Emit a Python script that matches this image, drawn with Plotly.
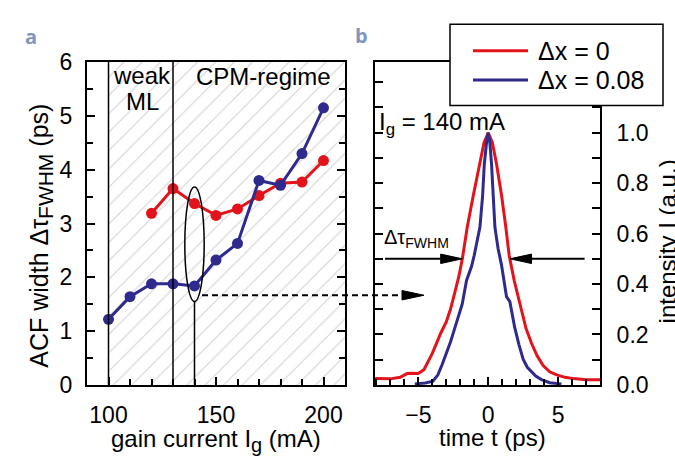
import numpy as np
import plotly.graph_objects as go

# ---------------- panel a: ACF width vs gain current ----------------
gain_current = [100, 110, 120, 130, 140, 150, 160, 170, 180, 190, 200]
acf_dx0_current = [120, 130, 140, 150, 160, 170, 180, 190, 200]
acf_dx0 = [3.19, 3.65, 3.37, 3.15, 3.27, 3.52, 3.75, 3.77, 4.17]
acf_dx008 = [1.22, 1.64, 1.88, 1.88, 1.84, 2.32, 2.63, 3.80, 3.71, 4.30, 5.15]

regime_bounds = [100, 130, 140]      # weak ML start, CPM start, selected current
ellipse_x = [135.5, 144.5]
ellipse_y = [1.55, 3.68]

# ---------------- panel b: pulse intensity at Ig = 140 mA ----------------
t_dx0 = [-8.1, -7.0, -6.3, -5.8, -5.5, -5.0, -4.6, -4.3, -4.0, -3.7, -3.4, -3.0,
         -2.7, -2.4, -2.1, -1.85, -1.5, -1.07, -0.6, -0.3, 0.0, 0.3, 0.6, 0.96,
         1.26, 1.5, 1.86, 2.38, 2.7, 3.1, 3.5, 3.93, 4.4, 4.9, 5.5, 6.1, 7.0, 8.0]
i_dx0 = [0.025, 0.024, 0.030, 0.045, 0.046, 0.045, 0.060, 0.090, 0.125, 0.165,
         0.205, 0.250, 0.300, 0.364, 0.430, 0.500, 0.625, 0.750, 0.875, 0.960,
         1.000, 0.960, 0.875, 0.750, 0.626, 0.514, 0.414, 0.290, 0.225, 0.165,
         0.115, 0.077, 0.052, 0.040, 0.030, 0.025, 0.021, 0.021]

t_dx008 = [-5.25, -4.5, -3.95, -3.6, -3.3, -2.97, -2.7, -2.38, -2.1, -1.86, -1.55,
           -1.19, -1.0, -0.83, -0.59, -0.4, -0.28, -0.12, 0.0, 0.12, 0.24, 0.36,
           0.48, 0.6, 0.71, 0.95, 1.31, 1.55, 1.9, 2.2, 2.5, 2.8, 3.1, 3.4, 3.81,
           4.4, 5.24]
i_dx008 = [0.004, 0.008, 0.015, 0.040, 0.080, 0.127, 0.170, 0.227, 0.280, 0.320,
           0.414, 0.470, 0.514, 0.560, 0.626, 0.750, 0.875, 0.960, 1.000, 0.960,
           0.875, 0.750, 0.626, 0.580, 0.540, 0.476, 0.350, 0.330, 0.227, 0.160,
           0.102, 0.070, 0.052, 0.035, 0.021, 0.009, 0.004]

legend_labels = ["Δx = 0", "Δx = 0.08"]

RED = "#e3131b"
BLUE = "#2e2a8e"
FONT = "Arial, Liberation Sans, sans-serif"

W, H = 675, 464
# plot areas in pixels (left, right, top, bottom)
A_PX = (87, 345, 52, 394)
B_PX = (375, 600, 52, 394)


def px(x):
    return x / W


def py(y):
    return 1 - y / H


fig = go.Figure()

# hatched regime area
fig.add_trace(go.Scatter(
    x=[regime_bounds[0], 210, 210, regime_bounds[0], regime_bounds[0]],
    y=[0, 0, 6, 6, 0], mode="lines", line=dict(width=0),
    fill="toself", fillcolor="white",
    fillpattern=dict(shape="/", fgcolor="#a8a8a8", bgcolor="white", size=13, solidity=0.09),
    hoverinfo="skip", showlegend=False, xaxis="x", yaxis="y"))

fig.add_trace(go.Scatter(
    x=acf_dx0_current, y=acf_dx0, mode="lines+markers",
    line=dict(color=RED, width=3), marker=dict(color=RED, size=11),
    showlegend=False, xaxis="x", yaxis="y"))
fig.add_trace(go.Scatter(
    x=gain_current, y=acf_dx008, mode="lines+markers",
    line=dict(color=BLUE, width=3), marker=dict(color=BLUE, size=11),
    showlegend=False, xaxis="x", yaxis="y"))

fig.add_trace(go.Scatter(
    x=t_dx0, y=i_dx0, mode="lines", name=legend_labels[0],
    line=dict(color=RED, width=3), showlegend=False, xaxis="x2", yaxis="y2"))
fig.add_trace(go.Scatter(
    x=t_dx008, y=i_dx008, mode="lines", name=legend_labels[1],
    line=dict(color=BLUE, width=3), showlegend=False, xaxis="x2", yaxis="y2"))

shapes = []
# regime boundaries
for xb in regime_bounds[:2]:
    shapes.append(dict(type="line", xref="x", yref="y", x0=xb, x1=xb, y0=0, y1=6,
                       line=dict(color="black", width=1.5), layer="above"))
shapes.append(dict(type="line", xref="x", yref="y", x0=regime_bounds[2], x1=regime_bounds[2],
                   y0=0, y1=ellipse_y[0], line=dict(color="black", width=1.5), layer="above"))
shapes.append(dict(type="circle", xref="x", yref="y", x0=ellipse_x[0], x1=ellipse_x[1],
                   y0=ellipse_y[0], y1=ellipse_y[1], line=dict(color="black", width=1.5),
                   layer="above"))

# dashed pointer from panel a to panel b
dash_y = py(299)
shapes.append(dict(type="line", xref="paper", yref="paper", x0=px(202), x1=px(404),
                   y0=dash_y, y1=dash_y, line=dict(color="black", width=2, dash="6px,4px")))
shapes.append(dict(type="path", xref="paper", yref="paper",
                   path=f"M {px(402)},{dash_y + 5/H} L {px(424)},{dash_y} L {px(402)},{dash_y - 5/H} Z",
                   fillcolor="black", line=dict(color="black", width=1)))

# FWHM arrows pointing at the half-maximum crossings of the Δx = 0 pulse
t_arr = np.array(t_dx0)
i_arr = np.array(i_dx0)
pk = int(np.argmax(i_arr))
t_left = float(np.interp(0.5, i_arr[:pk + 1], t_arr[:pk + 1]))
t_right = float(np.interp(0.5, i_arr[pk:][::-1], t_arr[pk:][::-1]))
hh = 5 / 267.3  # arrowhead half height in intensity units
head = 1.55     # arrowhead length in ps
for tip, tail, sgn in [(t_left, -7.38, 1), (t_right, 6.9, -1)]:
    base = tip - sgn * head
    shapes.append(dict(type="line", xref="x2", yref="y2", x0=tail, x1=base, y0=0.5, y1=0.5,
                       line=dict(color="black", width=2)))
    shapes.append(dict(type="path", xref="x2", yref="y2",
                       path=f"M {base},{0.5 + hh} L {tip},0.5 L {base},{0.5 - hh} Z",
                       fillcolor="black", line=dict(color="black", width=1)))

# legend box drawn over panel b's top-right corner
shapes.append(dict(type="rect", xref="paper", yref="paper", x0=px(450), x1=px(663),
                   y0=py(98), y1=py(12), fillcolor="white",
                   line=dict(color="black", width=1.5), layer="above"))
legend_rows = [40, 71]
for row, col in zip(legend_rows, [RED, BLUE]):
    shapes.append(dict(type="line", xref="paper", yref="paper", x0=px(473), x1=px(528),
                       y0=py(row), y1=py(row), line=dict(color=col, width=3), layer="above"))


def txt(text, x, y, size=24, xanchor="center", yanchor="middle", angle=0, color="black",
        family=FONT, xref="paper", yref="paper"):
    return dict(text=text, x=x, y=y, xref=xref, yref=yref, xanchor=xanchor, yanchor=yanchor,
                textangle=angle, showarrow=False,
                font=dict(family=family, size=size, color=color))


def sub(text, size):
    return f'<sub><span style="font-size:{size}px">{text}</span></sub>'


annotations = [
    txt("<b>a</b>", px(31), py(25), size=20, color="#7f96c0", family="Open Sans, sans-serif"),
    txt("<b>b</b>", px(361), py(24), size=20, color="#7f96c0", family="Open Sans, sans-serif"),
    txt("weak", 115.7, 5.75, xref="x", yref="y"),
    txt("ML", 115.7, 5.27, xref="x", yref="y"),
    txt("CPM-regime", 172, 5.74, xref="x", yref="y"),
    txt("I<sub>g</sub> = 140 mA", px(377), py(99), xanchor="left", yanchor="top"),
    txt("Δτ<sub>FWHM</sub>", px(382), py(224), size=20, xanchor="left", yanchor="top"),
    txt("ACF width Δτ" + sub("FWHM", 21) + " (ps)", px(41), py(236), size=25, angle=-90),
    txt("gain current I" + sub("g", 20) + " (mA)", px(216), py(453)),
    txt("time t (ps)", px(492), py(450)),
    txt("intensity I (a.u.)", px(667), py(242), angle=-90),
]
for row, label in zip(legend_rows, legend_labels):
    annotations.append(txt(label, px(536), py(row), size=25, xanchor="left"))

tickfont = dict(family=FONT, size=23, color="black")
axis_common = dict(showgrid=False, zeroline=False, showline=True, linecolor="black",
                   linewidth=2, ticks="inside", tickcolor="black", tickwidth=1.5,
                   ticklen=8, tickfont=tickfont)

fig.update_layout(
    width=W, height=H, margin=dict(l=0, r=0, t=0, b=0),
    paper_bgcolor="white", plot_bgcolor="white",
    font=dict(family=FONT, color="black"),
    xaxis=dict(domain=[px(A_PX[0]), px(A_PX[1])], range=[90, 210], tickvals=[100, 150, 200],
               mirror=True, ticklabelstandoff=8,
               minor=dict(dtick=10, tick0=100, ticks="inside", ticklen=6, tickcolor="black"),
               anchor="y", **axis_common),
    yaxis=dict(domain=[py(A_PX[3]), py(A_PX[2])], range=[0, 6], dtick=1, mirror="allticks",
               ticklabelstandoff=8,
               minor=dict(dtick=0.5, ticks="inside", ticklen=6, tickcolor="black"),
               anchor="x", **axis_common),
    xaxis2=dict(domain=[px(B_PX[0]), px(B_PX[1])], range=[-8.1, 8], tickvals=[-5, 0, 5],
                mirror=True, ticklabelstandoff=8,
                minor=dict(dtick=1, tick0=0, ticks="inside", ticklen=6, tickcolor="black"),
                anchor="y2", **axis_common),
    yaxis2=dict(domain=[py(B_PX[3]), py(B_PX[2])], range=[0, 1.28],
                tickvals=[0, 0.2, 0.4, 0.6, 0.8, 1.0],
                tickformat=".1f", side="right", mirror="allticks", ticklabelstandoff=10,
                minor=dict(dtick=0.1, ticks="inside", ticklen=8, tickcolor="black"),
                anchor="x2", **axis_common),
    shapes=shapes,
    annotations=annotations,
    showlegend=False,
)

fig.write_html("out.html")
